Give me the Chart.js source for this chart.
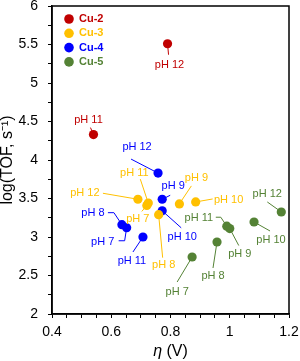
<!DOCTYPE html>
<html>
<head>
<meta charset="utf-8">
<script src="https://cdn.jsdelivr.net/npm/chart.js@4/dist/chart.umd.min.js"></script>
<style>
  html, body { margin: 0; padding: 0; background: #fff; }
</style>
</head>
<body>
<canvas id="chart" width="300" height="361"></canvas>
<script>
// series
const series = ["Cu-2", "Cu-3", "Cu-4", "Cu-5"];
const colores = ["#c00000", "#ffc000", "#0000ff", "#548235"];

const phCu2 = [11, 12];
const etaCu2 = [0.54, 0.79];
const logCu2 = [4.33, 5.51];

const phCu3 = [7, 8, 9, 10, 11, 12];
const etaCu3 = [0.72, 0.76, 0.83, 0.885, 0.725, 0.69];
const logCu3 = [3.41, 3.29, 3.43, 3.455, 3.44, 3.49];

const phCu4 = [7, 8, 9, 10, 11, 12];
const etaCu4 = [0.652, 0.636, 0.772, 0.772, 0.707, 0.758];
const logCu4 = [3.12, 3.16, 3.49, 3.34, 3.0, 3.83];

const phCu5 = [7, 8, 9, 10, 11, 12];
const etaCu5 = [0.873, 0.957, 1.0, 1.082, 0.99, 1.174];
const logCu5 = [2.74, 2.935, 3.11, 3.195, 3.14, 3.325];

// tick labels
const xTicks = [0.4, 0.6, 0.8, 1, 1.2];
const yTicks = [2, 2.5, 3, 3.5, 4, 4.5, 5, 5.5, 6];

// label placement (px from the point): t = text centre, l = leader line points
const posCu2 = [
  { t: [-5, -15], l: [[-3, -7]] },
  { t: [2, 21], l: [[1, 11]] }
];
const posCu3 = [
  { t: [-9, 14], l: [[-5, 6]] },
  { t: [5, 50], l: [[4, 43]] },
  { t: [17, -26], l: [[12, -18]] },
  { t: [33, -2], l: [[17, -3]] },
  { t: [-14, -30], l: [[-8, -24]] },
  { t: [-53, -6], l: [[-35, -6]] }
];
const posCu4 = [
  { t: [-24, 14], l: [[-2, 13], [-8, 13]] },
  { t: [-29, -12], l: [[-8, -12], [-14, -12]] },
  { t: [11, -13], l: [[8, -4]] },
  { t: [20, 26], l: [[19, 17]] },
  { t: [-11, 24], l: [[-10, 15]] },
  { t: [-21, -26], l: [[-27, -14]] }
];
const posCu5 = [
  { t: [-15, 35], l: [[-15, 25]] },
  { t: [-4, 34], l: [[-4, 26]] },
  { t: [10, 25], l: [[9, 17]] },
  { t: [17, 18], l: [[16, 9]] },
  { t: [-28, -8], l: [[-6, -9], [-11, -9]] },
  { t: [-14, -18], l: [[-14, -10]] }
];

function puntos(eta, log) {
  return eta.map((x, i) => ({ x: x, y: log[i] }));
}

const ph = [phCu2, phCu3, phCu4, phCu5];
const pos = [posCu2, posCu3, posCu4, posCu5];
const valores = [puntos(etaCu2, logCu2), puntos(etaCu3, logCu3), puntos(etaCu4, logCu4), puntos(etaCu5, logCu5)];

const FUENTE = '"Liberation Sans", Arial, sans-serif';

const rotulos = {
  id: "rotulos",
  beforeDatasetsDraw(chart) {
    const ctx = chart.ctx;
    ctx.save();
    ctx.lineWidth = 1;
    chart.data.datasets.forEach((ds, i) => {
      const meta = chart.getDatasetMeta(i);
      ctx.strokeStyle = colores[i];
      pos[i].forEach((p, j) => {
        const el = meta.data[j];
        ctx.beginPath();
        ctx.moveTo(el.x, el.y);
        p.l.forEach(q => ctx.lineTo(el.x + q[0], el.y + q[1]));
        ctx.stroke();
      });
    });
    ctx.restore();
  },
  afterDatasetsDraw(chart) {
    const ctx = chart.ctx;
    const a = chart.chartArea;
    ctx.save();
    // pH labels
    ctx.font = "11px " + FUENTE;
    ctx.textAlign = "center";
    ctx.textBaseline = "middle";
    chart.data.datasets.forEach((ds, i) => {
      const meta = chart.getDatasetMeta(i);
      ctx.fillStyle = colores[i];
      pos[i].forEach((p, j) => {
        const el = meta.data[j];
        ctx.fillText("pH " + ph[i][j], el.x + p.t[0], el.y + p.t[1]);
      });
    });
    // legend
    ctx.font = "bold 11px " + FUENTE;
    ctx.textAlign = "left";
    series.forEach((s, i) => {
      const y = a.top + 13 + i * 14.3;
      ctx.fillStyle = colores[i];
      ctx.beginPath();
      ctx.arc(a.left + 17, y, 4.8, 0, Math.PI * 2);
      ctx.fill();
      ctx.fillText(s, a.left + 27, y);
    });
    // frame
    ctx.strokeStyle = "#000";
    ctx.lineWidth = 1.5;
    ctx.strokeRect(a.left, a.top, a.right - a.left, a.bottom - a.top);
    // x title with italic eta
    ctx.fillStyle = "#000";
    ctx.textBaseline = "middle";
    const cx = (a.left + a.right) / 2;
    ctx.font = "italic 16px " + FUENTE;
    const w1 = ctx.measureText("η").width;
    ctx.font = "16px " + FUENTE;
    const w2 = ctx.measureText(" (V)").width;
    const x0 = cx - (w1 + w2) / 2;
    ctx.font = "italic 16px " + FUENTE;
    ctx.fillText("η", x0, 352);
    ctx.font = "16px " + FUENTE;
    ctx.fillText(" (V)", x0 + w1, 352);
    ctx.restore();
  }
};

const data = {
  datasets: series.map((s, i) => ({
    label: s,
    data: valores[i],
    backgroundColor: colores[i],
    borderWidth: 0,
    pointRadius: 4.6,
    pointHoverRadius: 4.6
  }))
};

const config = {
  type: "scatter",
  data: data,
  options: {
    responsive: false,
    animation: false,
    devicePixelRatio: 1,
    layout: { padding: { top: 6, right: 11, left: 0, bottom: 0 } },
    plugins: { legend: { display: false }, tooltip: { enabled: false } },
    scales: {
      x: {
        type: "linear",
        min: 0.4,
        max: 1.2,
        afterFit(scale) {
          scale.height = 47;
          scale.paddingLeft = 0;
          scale.paddingRight = 0;
        },
        border: { color: "#000", width: 1.5 },
        grid: { drawOnChartArea: false, color: "#000", tickLength: 4 },
        ticks: {
          stepSize: 0.05,
          autoSkip: false,
          maxRotation: 0,
          padding: 6,
          color: "#000",
          font: { size: 14, family: FUENTE },
          callback: v => xTicks.some(t => Math.abs(t - v) < 1e-6) ? String(Math.round(v * 10) / 10) : ""
        }
      },
      y: {
        type: "linear",
        min: 2,
        max: 6,
        afterFit(scale) {
          scale.width = 52;
          scale.paddingTop = 0;
          scale.paddingBottom = 0;
        },
        border: { color: "#000", width: 1.5 },
        grid: { drawOnChartArea: false, color: "#000", tickLength: 4 },
        ticks: {
          stepSize: 0.25,
          autoSkip: false,
          padding: 10,
          color: "#000",
          font: { size: 14, family: FUENTE },
          callback: v => yTicks.some(t => Math.abs(t - v) < 1e-6) ? String(Math.round(v * 10) / 10) : ""
        },
        title: {
          display: true,
          text: "log(TOF, s⁻¹)",
          color: "#000",
          padding: 0,
          font: { size: 16, family: FUENTE, lineHeight: 1 }
        }
      }
    }
  },
  plugins: [rotulos]
};

const chart = new Chart(document.getElementById("chart").getContext("2d"), config);
</script>
</body>
</html>
